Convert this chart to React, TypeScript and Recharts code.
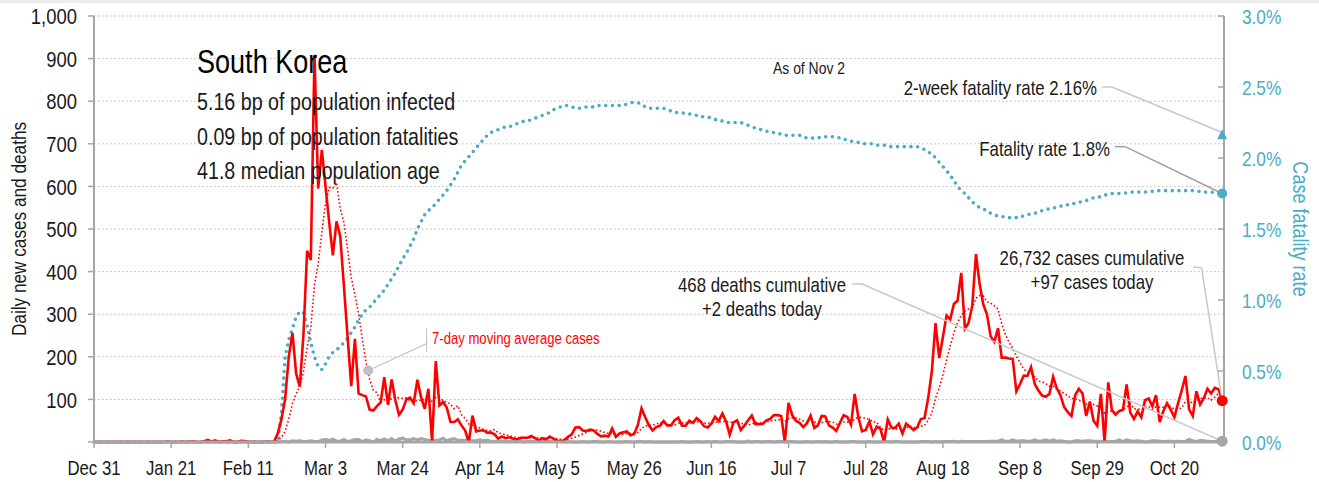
import React from 'react'
import {
  CartesianGrid,
  ComposedChart,
  Line,
  ReferenceDot,
  ReferenceLine,
  XAxis,
  YAxis,
} from 'recharts'

// the original uses a narrow grotesque; Liberation Sans squeezed to 82% matches Arial Narrow
const FONT = "'Liberation Sans', Arial, sans-serif"
const SQUEEZE = 0.82
const RED = '#ff0000'
const TEAL = '#4bacc6'
const GREY = '#a6a6a6'
const LEADER = '#c8c8c8'
const INK = '#1a1a1a'

// x axis: one tick every three weeks, day 0 = Dec 31
const tickDays = [0, 21, 42, 63, 84, 105, 126, 147, 168, 189, 210, 231, 252, 273, 294]
const tickLabels = [
  'Dec 31', 'Jan 21', 'Feb 11', 'Mar 3', 'Mar 24', 'Apr 14', 'May 5', 'May 26',
  'Jun 16', 'Jul 7', 'Jul 28', 'Aug 18', 'Sep 8', 'Sep 29', 'Oct 20',
]
const leftTicks = [0, 100, 200, 300, 400, 500, 600, 700, 800, 900, 1000]
const rightTicks = [0, 0.5, 1, 1.5, 2, 2.5, 3]

// daily new cases, Dec 31 .. Nov 2
const dailyCases = [
  0, 0, 0, 0, 0, 0, 0, 0, 0, 0,
  0, 0, 0, 0, 0, 0, 0, 0, 0, 0,
  1, 0, 0, 0, 1, 0, 1, 1, 0, 0,
  2, 5, 1, 4, 0, 1, 2, 4, 0, 0,
  3, 2, 0, 0, 0, 0, 0, 1, 0, 1,
  20, 53, 100, 200, 256, 161, 130, 253, 449, 427,
  909, 595, 686, 600, 516, 438, 518, 483, 367, 248,
  131, 242, 114, 110, 107, 76, 74, 84, 93, 152,
  87, 147, 98, 64, 76, 100, 104, 91, 146, 105,
  78, 125, 0, 190, 86, 94, 81, 47, 47, 53,
  39, 27, 0, 62, 25, 27, 27, 22, 22, 18,
  8, 13, 9, 11, 8, 6, 10, 10, 10, 14,
  9, 4, 9, 6, 13, 8, 3, 2, 4, 12,
  18, 34, 35, 27, 26, 29, 27, 19, 13, 15,
  13, 32, 12, 20, 23, 25, 16, 19, 40, 79,
  58, 39, 27, 35, 38, 49, 39, 39, 51, 57,
  38, 38, 50, 45, 56, 49, 37, 34, 43, 59,
  49, 67, 48, 17, 46, 51, 28, 39, 51, 62,
  42, 42, 43, 51, 54, 63, 63, 61, 0, 92,
  63, 50, 45, 35, 44, 62, 33, 39, 61, 60,
  39, 34, 26, 45, 63, 59, 41, 113, 58, 25,
  28, 48, 18, 36, 31, 0, 53, 34, 33, 43,
  20, 43, 36, 28, 34, 54, 56, 103, 166, 279,
  197, 246, 297, 288, 324, 332, 397, 266, 280, 320,
  441, 371, 323, 299, 248, 235, 267, 198, 198, 196,
  195, 119, 136, 156, 155, 176, 136, 121, 109, 106,
  113, 153, 126, 110, 82, 70, 61, 110, 125, 114,
  61, 95, 50, 38, 113, 0, 140, 75, 64, 73,
  75, 135, 69, 54, 72, 58, 98, 102, 84, 110,
  47, 73, 91, 76, 58, 91, 121, 155, 77, 61,
  119, 88, 103, 125, 114, 127, 124, 97,
]

// 7-day moving average of cases
const avgCases = [
  0, 0, 0, 0, 0, 0, 0, 0, 0, 0,
  0, 0, 0, 0, 0, 0, 0, 0, 0, 0,
  0.1, 0.1, 0.1, 0.1, 0.3, 0.3, 0.4, 0.4, 0.4, 0.4,
  0.7, 1.3, 1.4, 1.9, 1.7, 1.9, 2.1, 2.4, 1.7, 1.6,
  1.4, 1.7, 1.6, 1.3, 0.7, 0.7, 0.7, 0.4, 0.1, 0.3,
  3.1, 10.7, 25, 53.6, 90, 113, 131.4, 164.7, 221.3, 268,
  369.3, 417.7, 492.7, 559.9, 597.4, 595.9, 608.9, 548, 515.4, 452.9,
  385.9, 346.7, 300.4, 242.1, 188.4, 146.9, 122, 115.3, 94, 99.4,
  96.1, 101.9, 105, 103.6, 102.4, 103.4, 96.6, 97.1, 97, 98,
  100, 107, 92.7, 105, 104.3, 96.9, 93.4, 89, 77.9, 85.4,
  63.9, 55.4, 42, 39.3, 36.1, 33.3, 29.6, 27.1, 26.4, 29,
  21.3, 19.6, 17, 14.7, 12.7, 10.4, 9.3, 9.6, 9.1, 9.9,
  9.6, 9, 9.4, 8.9, 9.3, 9, 7.4, 6.4, 6.4, 6.9,
  8.6, 11.6, 15.4, 18.9, 22.3, 25.9, 28, 28.1, 25.1, 22.3,
  20.3, 21.1, 18.7, 17.7, 18.3, 20, 20.1, 21, 22.1, 31.7,
  37.1, 39.4, 39.7, 42.4, 45.1, 46.4, 40.7, 38, 39.7, 44,
  44.4, 44.4, 44.6, 45.4, 47.9, 47.6, 44.7, 44.1, 44.9, 46.1,
  46.7, 48.3, 48.1, 45.3, 47, 48.1, 43.7, 42.3, 40, 42,
  45.6, 45, 43.9, 47.1, 49.3, 51, 51.1, 53.9, 47.9, 54.9,
  56.6, 56, 53.4, 49.4, 47, 55.9, 47.4, 44, 45.6, 47.7,
  48.3, 46.9, 41.7, 43.4, 46.9, 46.6, 43.9, 54.4, 57.9, 57.7,
  55.3, 53.1, 47.3, 46.6, 34.9, 26.6, 30.6, 31.4, 29.3, 32.9,
  30.6, 32.3, 37.4, 33.9, 33.9, 36.9, 38.7, 50.6, 68.1, 102.9,
  127, 157.3, 192, 225.1, 256.7, 280.4, 297.3, 307.1, 312, 315.3,
  337.1, 343.9, 342.6, 328.6, 326, 319.6, 312, 277.3, 252.6, 234.4,
  219.6, 201.1, 187, 171.1, 165, 161.9, 153.3, 142.7, 141.3, 137,
  130.9, 130.6, 123.4, 119.7, 114.1, 108.6, 102.1, 101.7, 97.7, 96,
  89, 90.9, 88, 84.7, 85.1, 67.3, 71, 73, 68.6, 71.9,
  77.1, 80.3, 90.1, 77.9, 77.4, 76.6, 80.1, 84, 76.7, 82.6,
  81.6, 81.7, 86.4, 83.3, 77, 78, 79.6, 95, 95.6, 91.3,
  97.4, 101.7, 103.4, 104, 98.1, 105.3, 114.3, 111.1,
]

// daily deaths
const dailyDeaths = [
  0, 0, 0, 0, 0, 0, 0, 0, 0, 0,
  0, 0, 0, 0, 0, 0, 0, 0, 0, 0,
  0, 0, 0, 0, 0, 0, 0, 0, 0, 0,
  0, 0, 0, 0, 0, 0, 0, 0, 0, 0,
  0, 0, 0, 0, 0, 0, 0, 0, 0, 0,
  0, 1, 1, 0, 3, 2, 3, 1, 1, 3,
  1, 1, 5, 6, 4, 7, 2, 2, 6, 1,
  3, 6, 6, 1, 5, 3, 0, 6, 3, 7,
  3, 8, 2, 7, 9, 5, 5, 8, 5, 8,
  6, 4, 3, 4, 5, 9, 3, 6, 8, 4,
  4, 4, 3, 3, 3, 5, 3, 4, 2, 2,
  2, 2, 1, 1, 2, 0, 4, 0, 1, 1,
  1, 1, 2, 2, 2, 2, 2, 2, 0, 1,
  0, 0, 0, 1, 0, 0, 2, 1, 0, 0,
  1, 0, 0, 0, 0, 1, 0, 0, 1, 1,
  0, 1, 0, 0, 0, 0, 0, 0, 0, 0,
  1, 0, 0, 0, 1, 0, 0, 1, 0, 1,
  0, 0, 1, 1, 1, 0, 0, 0, 2, 0,
  1, 1, 0, 1, 1, 0, 1, 2, 0, 1,
  1, 0, 0, 0, 1, 0, 0, 1, 0, 1,
  0, 0, 1, 0, 0, 0, 1, 1, 0, 0,
  0, 1, 0, 0, 0, 1, 1, 0, 1, 1,
  0, 0, 0, 0, 0, 1, 1, 1, 0, 1,
  0, 1, 1, 1, 2, 0, 2, 1, 1, 1,
  1, 1, 1, 1, 2, 2, 2, 5, 2, 2,
  5, 2, 3, 3, 2, 2, 5, 2, 3, 5,
  2, 5, 2, 3, 2, 0, 0, 3, 3, 2,
  3, 3, 2, 2, 2, 1, 2, 1, 2, 5,
  1, 5, 3, 2, 3, 2, 0, 1, 3, 3,
  2, 1, 2, 2, 1, 2, 1, 2, 6, 3,
  1, 4, 3, 2, 1, 1, 3, 2,
]

// case fatality rate, percent (right axis)
const fatalityRate = [
  0, 0, 0, 0, 0, 0, 0, 0, 0, 0,
  0, 0, 0, 0, 0, 0, 0, 0, 0, 0,
  0, 0, 0, 0, 0, 0, 0, 0, 0, 0,
  0, 0, 0, 0, 0, 0, 0, 0, 0, 0,
  0, 0, 0, 0, 0, 0, 0, 0, 0, 0,
  0, 0.2, 0.6, 0.72, 0.8, 0.88, 0.92, 0.91, 0.82, 0.7,
  0.6, 0.53, 0.51, 0.55, 0.6, 0.63, 0.65, 0.67, 0.7, 0.73,
  0.77, 0.81, 0.86, 0.9, 0.93, 0.95, 0.98, 1.01, 1.04, 1.07,
  1.11, 1.15, 1.19, 1.24, 1.29, 1.33, 1.38, 1.43, 1.5, 1.55,
  1.6, 1.63, 1.65, 1.68, 1.71, 1.74, 1.77, 1.81, 1.85, 1.9,
  1.95, 1.98, 2.01, 2.04, 2.07, 2.1, 2.13, 2.16, 2.18, 2.19,
  2.2, 2.21, 2.22, 2.22, 2.23, 2.24, 2.25, 2.26, 2.26, 2.27,
  2.28, 2.29, 2.3, 2.31, 2.32, 2.34, 2.35, 2.36, 2.37, 2.37,
  2.36, 2.35, 2.35, 2.35, 2.36, 2.36, 2.36, 2.37, 2.37, 2.37,
  2.37, 2.37, 2.37, 2.37, 2.37, 2.38, 2.39, 2.39, 2.39, 2.38,
  2.36, 2.35, 2.35, 2.35, 2.35, 2.35, 2.34, 2.33, 2.32, 2.32,
  2.32, 2.31, 2.31, 2.31, 2.3, 2.29, 2.29, 2.29, 2.28, 2.27,
  2.27, 2.26, 2.25, 2.25, 2.25, 2.25, 2.25, 2.24, 2.23, 2.22,
  2.21, 2.2, 2.2, 2.19, 2.18, 2.18, 2.17, 2.17, 2.16, 2.16,
  2.16, 2.16, 2.16, 2.15, 2.14, 2.14, 2.14, 2.14, 2.15, 2.15,
  2.15, 2.15, 2.15, 2.14, 2.13, 2.13, 2.12, 2.11, 2.11, 2.1,
  2.1, 2.1, 2.1, 2.09, 2.09, 2.09, 2.08, 2.08, 2.08, 2.08,
  2.08, 2.08, 2.08, 2.08, 2.08, 2.07, 2.06, 2.04, 2.03, 2.0,
  1.97, 1.94, 1.91, 1.88, 1.84, 1.8, 1.77, 1.75, 1.72, 1.69,
  1.67, 1.65, 1.64, 1.63, 1.61, 1.6, 1.59, 1.59, 1.58, 1.58,
  1.58, 1.58, 1.59, 1.59, 1.6, 1.61, 1.61, 1.62, 1.63, 1.64,
  1.64, 1.65, 1.65, 1.66, 1.67, 1.67, 1.68, 1.68, 1.69, 1.69,
  1.7, 1.71, 1.72, 1.72, 1.73, 1.74, 1.74, 1.75, 1.75, 1.75,
  1.75, 1.755, 1.76, 1.76, 1.76, 1.76, 1.76, 1.765, 1.765, 1.77,
  1.77, 1.77, 1.77, 1.77, 1.77, 1.77, 1.77, 1.77, 1.77, 1.77,
  1.765, 1.765, 1.76, 1.76, 1.76, 1.755, 1.75, 1.75,
]

const twoWeekRate = 2.16

const rows = dailyCases.map((cases, day) => ({
  day,
  cases,
  avg: avgCases[day],
  deaths: dailyDeaths[day],
  cfr: fatalityRate[day],
}))

const lastDay = rows.length - 1
const last = rows[lastDay]

// narrow text: squeeze horizontally around its anchor point
function Narrow({
  x, y, size, fill = INK, anchor = 'start', rotate = 0, dy, children,
}: {
  x: number; y: number; size: number; fill?: string; anchor?: string; rotate?: number; dy?: string; children: React.ReactNode
}) {
  return (
    <text
      transform={`translate(${x},${y}) rotate(${rotate}) scale(${SQUEEZE},1)`}
      fontSize={size}
      fill={fill}
      textAnchor={anchor as any}
      dy={dy}
      fontFamily={FONT}
    >
      {children}
    </text>
  )
}

const BottomTick = (props: any) => {
  const { x, y, payload } = props
  return (
    <Narrow x={x} y={y} size={20.5} anchor="middle" dy="0.71em">
      {tickLabels[tickDays.indexOf(payload.value)]}
    </Narrow>
  )
}

const LeftTick = (props: any) => {
  const { x, y, payload } = props
  if (payload.value === 0) return <g />
  return (
    <Narrow x={x} y={y} size={22.5} anchor="end" dy="0.36em">
      {payload.value.toLocaleString('en-US')}
    </Narrow>
  )
}

const RightTick = (props: any) => {
  const { x, y, payload } = props
  return (
    <g>
      <line x1={x - 6} x2={x} y1={y} y2={y} stroke={GREY} strokeWidth={1.5} />
      <Narrow x={x + 18} y={y} size={21} fill={TEAL} dy="0.36em">
        {payload.value.toFixed(1)}%
      </Narrow>
    </g>
  )
}

const Triangle = (props: any) => {
  const { cx, cy } = props
  return <polygon points={`${cx},${cy - 6} ${cx + 5},${cy + 4} ${cx - 5},${cy + 4}`} fill={TEAL} />
}

export default function App() {
  return (
    <div style={{ position: 'absolute', left: 0, top: 0, width: 1319, height: 482, background: '#fff' }}>
      <div style={{ position: 'absolute', left: 0, top: 0, width: 1319, height: 3, background: '#ececec' }} />
      <ComposedChart
        width={1319}
        height={482}
        data={rows}
        margin={{ top: 16, right: 0, bottom: 0, left: 0 }}
        style={{ fontFamily: FONT }}
      >
        <CartesianGrid yAxisId="left" vertical={false} stroke="#b8b8b8" strokeDasharray="1.5 2.5" />
        <XAxis
          dataKey="day"
          type="number"
          domain={[0, 307.5]}
          ticks={tickDays}
          interval={0}
          height={40}
          tickSize={6}
          tickMargin={12}
          axisLine={{ stroke: GREY, strokeWidth: 3 }}
          tickLine={{ stroke: GREY, strokeWidth: 1.5 }}
          tick={<BottomTick />}
        />
        <YAxis
          yAxisId="left"
          domain={[0, 1000]}
          ticks={leftTicks}
          interval={0}
          width={94}
          tickSize={6}
          tickMargin={11}
          axisLine={{ stroke: GREY, strokeWidth: 2 }}
          tickLine={{ stroke: GREY, strokeWidth: 1.5 }}
          tick={<LeftTick />}
        />
        <YAxis
          yAxisId="right"
          orientation="right"
          domain={[0, 3]}
          ticks={rightTicks}
          interval={0}
          width={95}
          tickSize={0}
          tickMargin={0}
          tickLine={false}
          axisLine={{ stroke: GREY, strokeWidth: 2 }}
          tick={<RightTick />}
        />

        <Line
          yAxisId="left"
          dataKey="deaths"
          type="linear"
          stroke={GREY}
          strokeWidth={3}
          dot={false}
          isAnimationActive={false}
        />
        <Line
          yAxisId="right"
          dataKey="cfr"
          type="linear"
          stroke={TEAL}
          strokeWidth={3.6}
          strokeDasharray="0 6.7"
          strokeLinecap="round"
          dot={false}
          isAnimationActive={false}
        />
        <Line
          yAxisId="left"
          dataKey="avg"
          type="linear"
          stroke={RED}
          strokeWidth={1.6}
          strokeDasharray="1.6 2.2"
          dot={false}
          isAnimationActive={false}
        />
        <Line
          yAxisId="left"
          dataKey="cases"
          type="linear"
          stroke={RED}
          strokeWidth={2.6}
          dot={false}
          isAnimationActive={false}
        />

        {/* leader lines */}
        <ReferenceLine yAxisId="right" segment={[{ x: 274.3, y: 2.5 }, { x: 277, y: 2.5 }]} stroke={LEADER} strokeWidth={1.5} />
        <ReferenceLine yAxisId="right" segment={[{ x: 277, y: 2.5 }, { x: lastDay, y: twoWeekRate + 0.02 }]} stroke={LEADER} strokeWidth={1.5} />
        <ReferenceLine yAxisId="right" segment={[{ x: 277.8, y: 2.08 }, { x: 280.6, y: 2.08 }]} stroke="#a0a0a0" strokeWidth={1.5} />
        <ReferenceLine yAxisId="right" segment={[{ x: 280.6, y: 2.08 }, { x: lastDay, y: last.cfr }]} stroke="#a0a0a0" strokeWidth={1.5} />
        <ReferenceLine yAxisId="left" segment={[{ x: 299.1, y: 411 }, { x: 301.4, y: 409 }]} stroke={LEADER} strokeWidth={1.5} />
        <ReferenceLine yAxisId="left" segment={[{ x: 301.4, y: 409 }, { x: lastDay, y: last.cases }]} stroke={LEADER} strokeWidth={1.5} />
        <ReferenceLine yAxisId="left" segment={[{ x: 206.3, y: 371 }, { x: 209, y: 371 }]} stroke={LEADER} strokeWidth={1.5} />
        <ReferenceLine yAxisId="left" segment={[{ x: 209, y: 371 }, { x: lastDay, y: last.deaths }]} stroke={LEADER} strokeWidth={1.5} />
        <ReferenceLine yAxisId="left" segment={[{ x: 74.6, y: 168 }, { x: 90.5, y: 231 }]} stroke={LEADER} strokeWidth={1.2} />
        <ReferenceLine yAxisId="left" segment={[{ x: 90.5, y: 267 }, { x: 90.5, y: 211 }]} stroke={LEADER} strokeWidth={1.2} />

        {/* end markers */}
        <ReferenceDot yAxisId="left" x={74.6} y={168} r={5} fill="#bfbfbf" stroke="none" />
        <ReferenceDot yAxisId="left" x={lastDay} y={last.deaths} r={5.5} fill={GREY} stroke="none" />
        <ReferenceDot yAxisId="left" x={lastDay} y={last.cases} r={5.5} fill={RED} stroke="none" />
        <ReferenceDot yAxisId="right" x={lastDay} y={last.cfr} r={5} fill={TEAL} stroke="none" />
        <ReferenceDot yAxisId="right" x={lastDay} y={twoWeekRate} r={5} shape={<Triangle />} />
      </ComposedChart>

      <svg
        width={1319}
        height={482}
        style={{ position: 'absolute', left: 0, top: 0, pointerEvents: 'none' }}
      >
        <Narrow x={197} y={73} size={33} fill="#000">South Korea</Narrow>
        <Narrow x={197} y={110} size={24}>5.16 bp of population infected</Narrow>
        <Narrow x={197} y={144.5} size={24}>0.09 bp of population fatalities</Narrow>
        <Narrow x={197} y={178.5} size={24}>41.8 median population age</Narrow>
        <Narrow x={809} y={74} size={17} anchor="middle">As of Nov 2</Narrow>

        <Narrow x={1097} y={95} size={20.5} anchor="end">2-week fatality rate 2.16%</Narrow>
        <Narrow x={1110} y={156} size={20.5} anchor="end">Fatality rate 1.8%</Narrow>
        <Narrow x={1092} y={265} size={20.5} anchor="middle">26,732 cases cumulative</Narrow>
        <Narrow x={1092} y={289} size={20.5} anchor="middle">+97 cases today</Narrow>
        <Narrow x={762} y={292} size={20.5} anchor="middle">468 deaths cumulative</Narrow>
        <Narrow x={762} y={316} size={20.5} anchor="middle">+2 deaths today</Narrow>
        <Narrow x={432} y={344} size={16} fill={RED}>7-day moving average cases</Narrow>

        <Narrow x={26} y={229} size={21} anchor="middle" rotate={-90}>Daily new cases and deaths</Narrow>
        <Narrow x={1293} y={229} size={22} anchor="middle" rotate={90} fill={TEAL}>Case fatality rate</Narrow>
      </svg>
    </div>
  )
}
